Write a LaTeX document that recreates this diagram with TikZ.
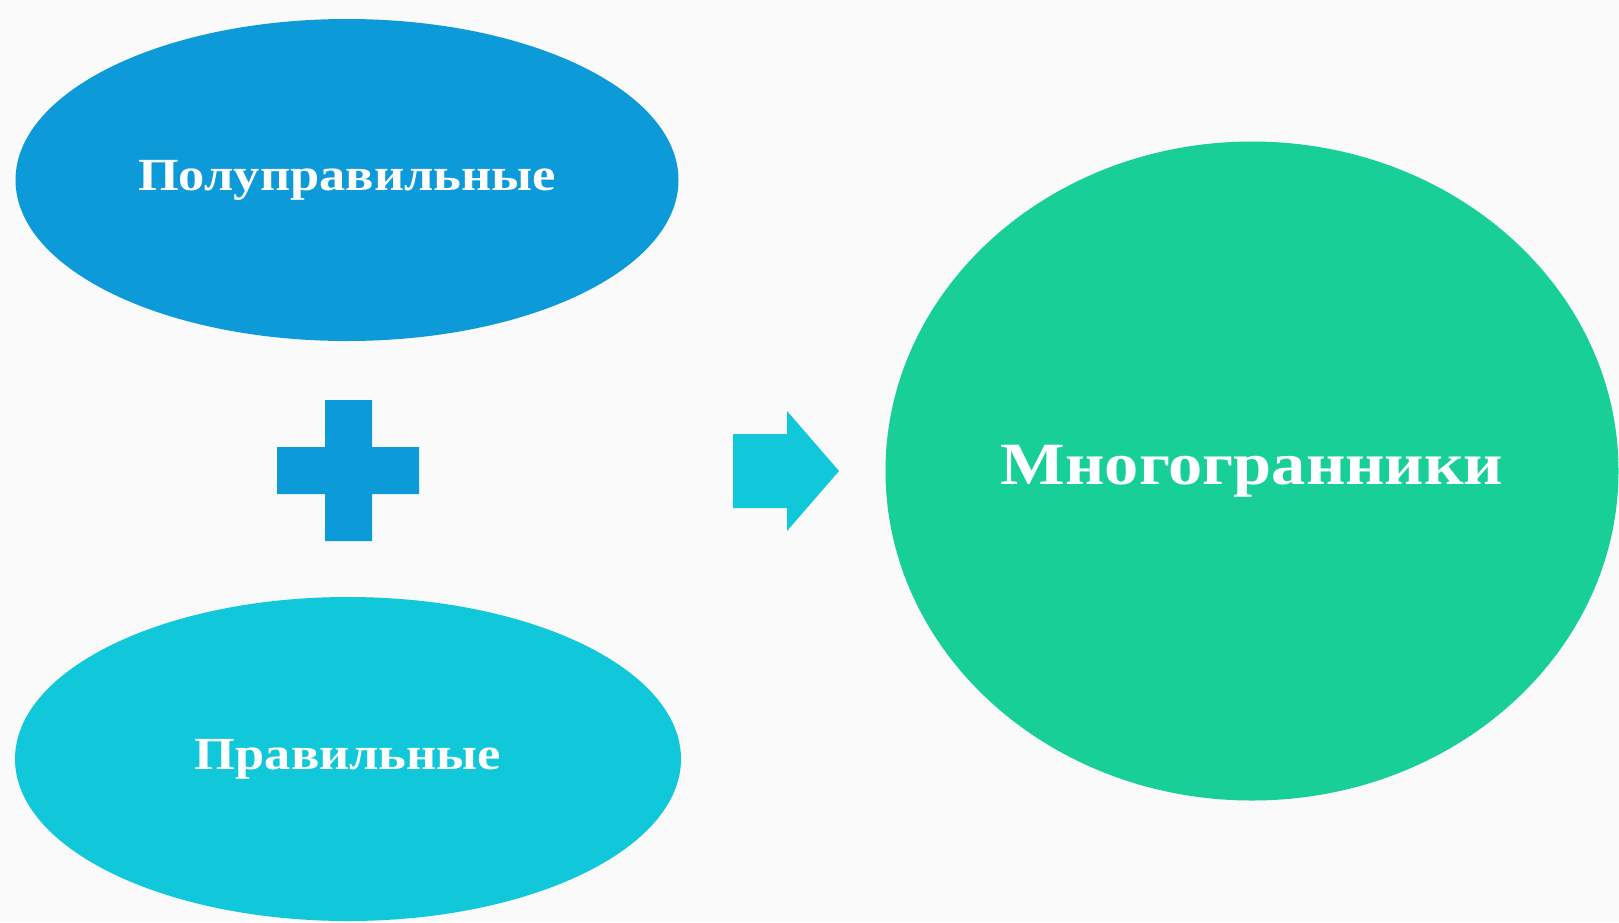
\documentclass[tikz,border=0pt]{standalone}
\usepackage{fontspec}
\setmainfont{Liberation Serif}[FakeStretch=1.14]
\usepackage{tikz}
\usetikzlibrary{shapes.geometric}
\definecolor{topblue}{RGB}{12,155,216}
\definecolor{lowcyan}{RGB}{16,200,218}
\definecolor{bigteal}{RGB}{23,207,151}
\definecolor{paper}{RGB}{250,250,250}

\begin{document}
\begin{tikzpicture}[x=1pt, y=-1pt,
  every node/.style={font=\bfseries, text=white},
  blob/.style={ellipse, inner sep=0pt}]
  \fill[paper] (0,0) rectangle (1619,922);
  \useasboundingbox (0,0) rectangle (1619,922);

  % Kinds
  \node[blob, fill=topblue, minimum width=663pt, minimum height=322pt, font=\bfseries\fontsize{46}{46}\selectfont] (semi) at (347,180) {Полуправильные};
  \node[blob, fill=lowcyan, minimum width=666pt, minimum height=324pt, font=\bfseries\fontsize{46}{46}\selectfont] (reg) at (348,759) {Правильные};

  % Result
  \node[blob, fill=bigteal, minimum width=733pt, minimum height=659pt, font=\bfseries\fontsize{60}{60}\selectfont] (poly) at (1252,471) {Многогранники};

  % Plus
  \fill[topblue] (325,400) -- (372,400) -- (372,447) -- (419,447) -- (419,494) -- (372,494)
    -- (372,541) -- (325,541) -- (325,494) -- (277,494) -- (277,447) -- (325,447) -- cycle;

  % Arrow
  \fill[lowcyan] (733,434) -- (787,434) -- (787,411) -- (839,471) -- (787,531) -- (787,508)
    -- (733,508) -- cycle;
\end{tikzpicture}
\end{document}
